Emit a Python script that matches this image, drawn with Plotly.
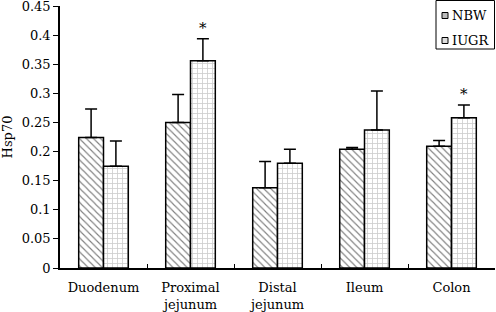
import plotly.graph_objects as go

categories = ["Duodenum", "Proximal<br>jejunum", "Distal<br>jejunum", "Ileum", "Colon"]
nbw = [0.224, 0.250, 0.138, 0.204, 0.209]
nbw_err = [0.049, 0.048, 0.045, 0.003, 0.010]
iugr = [0.175, 0.356, 0.180, 0.237, 0.258]
iugr_err = [0.043, 0.038, 0.024, 0.067, 0.022]
sig_iugr = [False, True, False, False, True]
y_ticks = [0, 0.05, 0.1, 0.15, 0.2, 0.25, 0.3, 0.35, 0.4, 0.45]
legend_names = ["NBW", "IUGR"]

FONT = "DejaVu Serif"
W, H = 496, 312
L, R, T, B = 60, 1, 6, 44


def px(xp):
    return (xp - L) / (W - L - R)


def py(yp):
    return (H - B - yp) / (H - T - B)


fig = go.Figure()
fig.add_trace(go.Bar(
    name="NBW", x=categories, y=nbw,
    marker=dict(color="white", line=dict(color="black", width=1.5),
                pattern=dict(shape="\\", fgcolor="black", bgcolor="white", size=5, solidity=0.22)),
    error_y=dict(type="data", array=nbw_err, arrayminus=[0]*len(nbw), symmetric=False,
                 color="black", thickness=1.5, width=6),
))
fig.add_trace(go.Bar(
    name="IUGR", x=categories, y=iugr,
    marker=dict(color="white", line=dict(color="black", width=1.5),
                pattern=dict(shape="+", fgcolor="#999", bgcolor="white", size=5, solidity=0.3)),
    error_y=dict(type="data", array=iugr_err, arrayminus=[0]*len(iugr), symmetric=False,
                 color="black", thickness=1.5, width=6),
))

for c, v, e, s in zip(categories, iugr, iugr_err, sig_iugr):
    if s:
        fig.add_annotation(x=c, y=v + e, text="*", showarrow=False, xshift=12.5, yshift=11,
                           font=dict(family=FONT, size=15, color="black"))

# manual legend box (top right)
fig.add_shape(type="rect", xref="paper", yref="paper",
              x0=px(436), x1=px(494.5), y0=py(49), y1=py(0.5),
              line=dict(color="black", width=1), fillcolor="white", layer="above")
legend_fills = ["#bbb", "#ddd"]
for i, name in enumerate(legend_names):
    yc = 15.5 + i * 25
    fig.add_shape(type="rect", xref="paper", yref="paper",
                  x0=px(442), x1=px(448), y0=py(yc + 3), y1=py(yc - 3),
                  line=dict(color="black", width=1), fillcolor=legend_fills[i], layer="above")
    fig.add_annotation(xref="paper", yref="paper", x=px(450), y=py(yc), text=name,
                       xanchor="left", yanchor="middle", showarrow=False,
                       font=dict(family=FONT, size=13, color="black"))

fig.update_layout(
    width=W, height=H,
    margin=dict(l=L, r=R, t=T, b=B, autoexpand=False),
    paper_bgcolor="white", plot_bgcolor="white",
    barmode="group", bargap=0.43, bargroupgap=0,
    font=dict(family=FONT, size=13, color="black"),
    showlegend=False,
)
fig.update_xaxes(showline=True, linecolor="black", linewidth=1.5, ticks="inside", ticklen=4,
                 tickson="boundaries", tickcolor="black", showgrid=False,
                 ticklabelstandoff=7, automargin=False,
                 tickfont=dict(family=FONT, size=13))
fig.update_yaxes(range=[0, 0.4501], tickvals=y_ticks, ticktext=[f"{t:g}" for t in y_ticks],
                 showline=True, linecolor="black", linewidth=1.5, ticks="outside", ticklen=5,
                 tickcolor="black", showgrid=False, zeroline=False, automargin=False,
                 ticklabeloverflow="allow",
                 title=dict(text="Hsp70", standoff=8, font=dict(family=FONT, size=13)),
                 tickfont=dict(family=FONT, size=13))

fig.write_html("out.html",
               config={"displayModeBar": False},
               post_script="document.body.style.margin='0';document.body.style.overflow='hidden';")
